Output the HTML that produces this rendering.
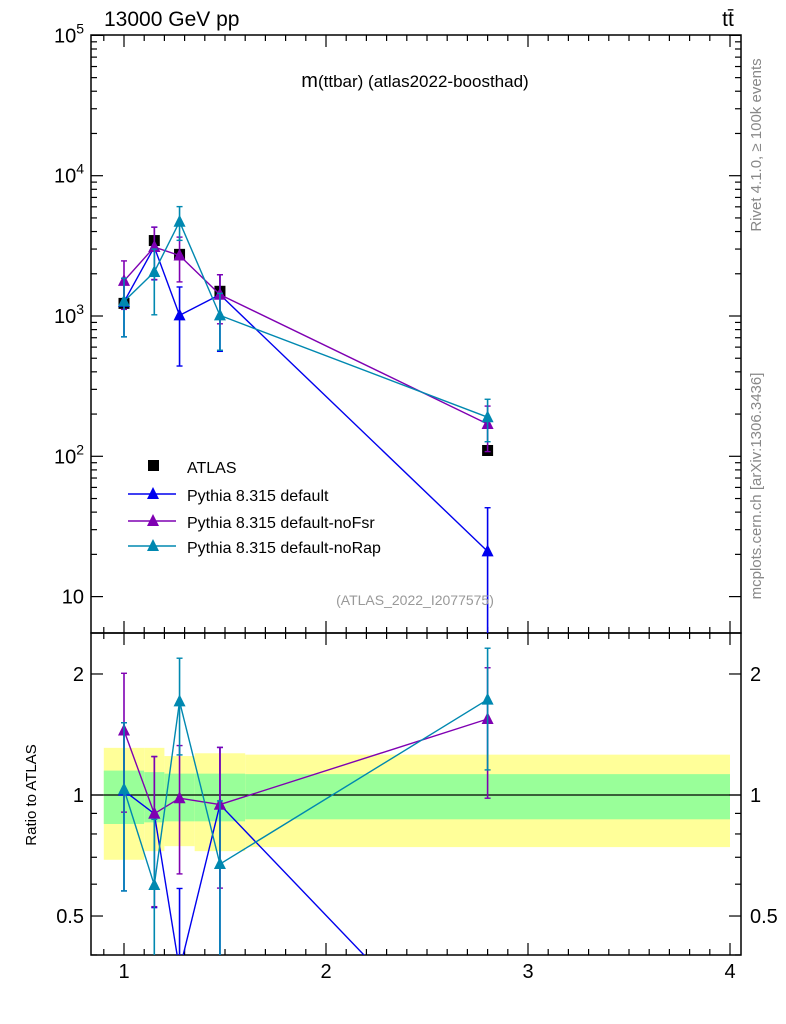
<!DOCTYPE html>
<html><head><meta charset="utf-8"><style>
html,body{margin:0;background:#fff;width:786px;height:1024px;overflow:hidden;}
svg{display:block;font-family:"Liberation Sans",sans-serif;}
</style></head><body>
<svg id="chart" width="786" height="1024" viewBox="0 0 786 1024"></svg>
<script>
const xPts=[1.0,1.15,1.275,1.475,2.8];
const atlasY=[1230,3450,2750,1500,110];
const atlasUp=[1300,3600,2900,1580,118];
const atlasDn=[1160,3300,2600,1420,102];
const defY=[1260,3100,1010,1420,21];
const defUp=[1860,4300,1610,1970,43];
const defDn=[710,1810,440,560,0.1];
const nofsrY=[1780,3100,2700,1420,170];
const nofsrUp=[2470,4300,3650,1970,228];
const nofsrDn=[1115,1820,1750,880,108];
const norapY=[1270,2060,4700,1010,190];
const norapUp=[1860,3000,6020,1450,255];
const norapDn=[710,1020,3460,570,127];
const binEdges=[0.9,1.1,1.2,1.35,1.6,4.0];
const bandYelHi=[1.31,1.31,1.25,1.27,1.26];
const bandYelLo=[0.69,0.725,0.746,0.725,0.742];
const bandGrnHi=[1.15,1.14,1.13,1.13,1.127];
const bandGrnLo=[0.847,0.855,0.86,0.86,0.87];
const xTicks=[1,2,3,4];
const mainTicks=[10,100,1000,10000,100000];
const ratioTicks=[0.5,1,2];

const L=91,R=741,MT=35,MB=633,RB=955;
const X=v=>124+(v-1)*202;
const YM=v=>316-(Math.log10(v)-3)*140.3;
const YR=v=>795-Math.log10(v)*402;
const clamp=(y,a,b)=>Math.max(a,Math.min(b,y));
const svg=document.getElementById('chart');
const NS='http://www.w3.org/2000/svg';
function mk(t,a,p){const e=document.createElementNS(NS,t);for(const k in a)e.setAttribute(k,a[k]);(p||svg).appendChild(e);return e;}
const clipDefs=mk('defs',{});
const c1=mk('clipPath',{id:'cm'},clipDefs);mk('rect',{x:L,y:MT,width:R-L,height:MB-MT},c1);
const c2=mk('clipPath',{id:'cr'},clipDefs);mk('rect',{x:L,y:MB,width:R-L,height:RB-MB},c2);

const gBand=mk('g',{'clip-path':'url(#cr)'});


for(let i=0;i<bandYelHi.length;i++){
  const x0=X(binEdges[i]),x1=X(binEdges[i+1]);
  const y=mk('rect',{x:x0,y:YR(bandYelHi[i]),width:x1-x0,height:YR(bandYelLo[i])-YR(bandYelHi[i]),fill:'#ffff99'},gBand);
  
  
  const g=mk('rect',{x:x0,y:YR(bandGrnHi[i]),width:x1-x0,height:YR(bandGrnLo[i])-YR(bandGrnHi[i]),fill:'#99ff99'},gBand);
  
  
}
mk('line',{x1:L,x2:R,y1:YR(1),y2:YR(1),stroke:'#000','stroke-width':1.2});

mk('rect',{x:L,y:MT,width:R-L,height:MB-MT,fill:'none',stroke:'#000','stroke-width':1.5});
mk('rect',{x:L,y:MB,width:R-L,height:RB-MB,fill:'none',stroke:'#000','stroke-width':1.5});

for(let v=0.9;v<=4.05;v+=0.1){
  const r=Math.round(v*10)/10, maj=Math.abs(r-Math.round(r))<1e-6, len=maj?12:6, x=X(r);
  if(x<L||x>R)continue;
  for(const [yb,d] of [[MB,-1],[MT,1],[RB,-1],[MB,1]]) mk('line',{x1:x,x2:x,y1:yb,y2:yb+d*len,stroke:'#000','stroke-width':1.2});
}
xTicks.forEach(t=>{const e=mk('text',{x:X(t),y:978,'text-anchor':'middle','font-size':20});e.textContent=t;

});
for(let d=0;d<5;d++)for(let m=1;m<10;m++){
  const v=m*Math.pow(10,d+1),y=YM(v);if(y<MT-0.5||y>MB)continue;
  const len=m==1?12:6;
  mk('line',{x1:L,x2:L+len,y1:y,y2:y,stroke:'#000','stroke-width':1.2});
  mk('line',{x1:R,x2:R-len,y1:y,y2:y,stroke:'#000','stroke-width':1.2});
}
mainTicks.forEach(t=>{const e=mk('text',{x:84,y:YM(t)+7,'text-anchor':'end','font-size':20});
 if(t==10)e.textContent='10';else{e.textContent='10';const s=mk('tspan',{dy:-9,'font-size':14},e);s.textContent=Math.log10(t);}
 
 });
[0.4,0.5,0.6,0.7,0.8,0.9,1,2].forEach(v=>{const y=YR(v);const len=(v==0.5||v==1||v==2)?12:6;
 mk('line',{x1:L,x2:L+len,y1:y,y2:y,stroke:'#000','stroke-width':1.2});mk('line',{x1:R,x2:R-len,y1:y,y2:y,stroke:'#000','stroke-width':1.2});});
ratioTicks.forEach(t=>{for(const [x,a] of [[84,'end'],[750,'start']]){const e=mk('text',{x:x,y:YR(t)+7,'text-anchor':a,'font-size':20});e.textContent=t;
 
 }});

function tri(g,x,y,c){mk('polygon',{points:`${x-6},${y+5} ${x+6},${y+5} ${x},${y-7}`,fill:c},g);}
function clipSeg(x0,y0,x1,y1,lo,hi){
  let t0=0,t1=1;const dy=y1-y0;
  if(dy!==0){
    let ta=(lo-y0)/dy,tb=(hi-y0)/dy;if(ta>tb){const s=ta;ta=tb;tb=s;}
    t0=Math.max(t0,ta);t1=Math.min(t1,tb);
  }else if(y0<lo||y0>hi)return null;
  if(t0>t1)return null;
  return [x0+(x1-x0)*t0,y0+dy*t0,x0+(x1-x0)*t1,y0+dy*t1];
}
function series(name,Y,Up,Dn,c,ratio,marker){
  const g=mk('g',{'clip-path':ratio?'url(#cr)':'url(#cm)'});
  
  
  const lo=ratio?MB-10:MT-10, hi=ratio?RB+10:MB+10;
  const raw=ratio?(v,i)=>YR(v/atlasY[i]):(v)=>YM(v);
  const f=(v,i)=>clamp(raw(v,i),lo,hi);
  if(marker!='sq'){
    for(let i=0;i<xPts.length-1;i++){
      const s=clipSeg(X(xPts[i]),raw(Y[i],i),X(xPts[i+1]),raw(Y[i+1],i+1),lo,hi);
      if(s)mk('line',{x1:s[0],y1:s[1],x2:s[2],y2:s[3],stroke:c,'stroke-width':1.4},g);
    }
  }
  xPts.forEach((x,i)=>{const px=X(x),a=f(Up[i],i),b=f(Dn[i],i);
    mk('line',{x1:px,x2:px,y1:a,y2:b,stroke:c,'stroke-width':1.6},g);
    mk('line',{x1:px-3,x2:px+3,y1:a,y2:a,stroke:c,'stroke-width':1.4},g);
    mk('line',{x1:px-3,x2:px+3,y1:b,y2:b,stroke:c,'stroke-width':1.4},g);
    const py=raw(Y[i],i);
    if(py<lo||py>hi)return;
    if(marker=='sq')mk('rect',{x:px-5.5,y:py-5.5,width:11,height:11,fill:'#000'},g);else tri(g,px,py,c);});
}
series('atlas',atlasY,atlasUp,atlasDn,'#000',false,'sq');
series('pythia-default',defY,defUp,defDn,'#0000ee',false);
series('pythia-nofsr',nofsrY,nofsrUp,nofsrDn,'#7f00b2',false);
series('pythia-norap',norapY,norapUp,norapDn,'#0088b0',false);
series('pythia-default',defY,defUp,defDn,'#0000ee',true);
series('pythia-nofsr',nofsrY,nofsrUp,nofsrDn,'#7f00b2',true);
series('pythia-norap',norapY,norapUp,norapDn,'#0088b0',true);

const lg=mk('g',{});


mk('rect',{x:148,y:460,width:11,height:11,fill:'#000'},lg);
const lt=[['ATLAS',466],['Pythia 8.315 default',494],['Pythia 8.315 default-noFsr',521],['Pythia 8.315 default-noRap',546]];
const lc=['#0000ee','#7f00b2','#0088b0'];
lc.forEach((c,i)=>{const y=lt[i+1][1];mk('line',{x1:128,x2:176,y1:y,y2:y,stroke:c,'stroke-width':1.4},lg);tri(lg,153,y,c);});
lt.forEach(([t,y])=>{const e=mk('text',{x:187,y:y+7,'font-size':16},lg);e.textContent=t;});

function txt(s,a,name){const e=mk('text',a);e.textContent=s;return e;}
txt('13000 GeV pp',{x:104,y:26,'font-size':21},'energy-label');
txt('tt̄',{x:728,y:26,'font-size':21,'text-anchor':'middle'},'process-label');
const t=txt('',{x:415,y:87,'font-size':17,'text-anchor':'middle'},'plot-title');
const t1=mk('tspan',{'font-size':20},t);t1.textContent='m';const t2=mk('tspan',{},t);t2.textContent='(ttbar) (atlas2022-boosthad)';
txt('(ATLAS_2022_I2077575)',{x:415,y:605,'font-size':14,'text-anchor':'middle',fill:'#999'},'analysis-id');
txt('Ratio to ATLAS',{x:0,y:0,'font-size':15,'text-anchor':'middle',transform:'translate(36,795) rotate(-90)'},'ratio-y-title');
txt('Rivet 4.1.0, ≥ 100k events',{x:0,y:0,'font-size':15,'text-anchor':'middle',fill:'#888',transform:'translate(761,145) rotate(-90)'},'rivet-label');
txt('mcplots.cern.ch [arXiv:1306.3436]',{x:0,y:0,'font-size':15,'text-anchor':'middle',fill:'#888',transform:'translate(761,486) rotate(-90)'},'mcplots-label');
</script>
</body></html>
